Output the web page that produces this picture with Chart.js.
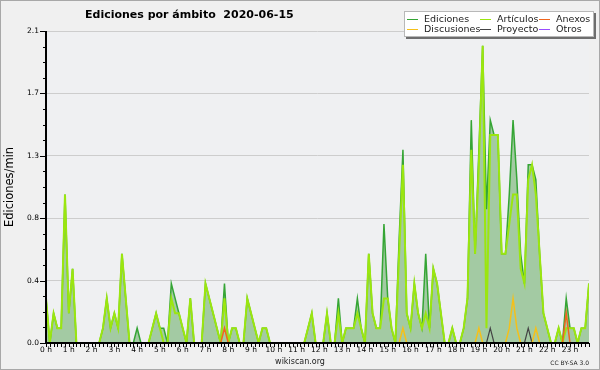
<!DOCTYPE html>
<html>
<head>
<meta charset="utf-8">
<script src="https://cdn.jsdelivr.net/npm/chart.js@4.4.1/dist/chart.umd.min.js"></script>
<style>
html,body{margin:0;padding:0;background:#f0f0f0;}
#wrap{width:598px;height:368px;border:1px solid #a8a8a8;}
canvas{display:block;}
</style>
</head>
<body>
<div id="wrap"><canvas id="c" width="598" height="368"></canvas></div>
<script>
// 10-minute bins, edits per minute
const hourLabels = ['0 h','1 h','2 h','3 h','4 h','5 h','6 h','7 h','8 h','9 h','10 h','11 h',
  '12 h','13 h','14 h','15 h','16 h','17 h','18 h','19 h','20 h','21 h','22 h','23 h'];
const yTicks = [0, 0.42, 0.84, 1.26, 1.68, 2.1];

const ediciones = [
  0.3,0,0.2,0.1,0.1,1.0,0.2,0.5,0,0,0,0,
  0,0,0,0.1,0.3,0.1,0.2,0.1,0.6,0.3,0,0,
  0.1,0,0,0,0.1,0.2,0.1,0.1,0,0.4,0.3,0.2,
  0.1,0,0.3,0,0,0,0.4,0.3,0.2,0.1,0,0.4,
  0,0.1,0.1,0,0,0.3,0.2,0.1,0,0.1,0.1,0,
  0,0,0,0,0,0,0,0,0,0.1,0.2,0,
  0,0,0.2,0,0,0.3,0,0.1,0.1,0.1,0.3,0.1,
  0,0.6,0.2,0.1,0.1,0.8,0.3,0.1,0,0.7,1.3,0.2,
  0.1,0.4,0.2,0.1,0.6,0.1,0.5,0.4,0.2,0,0,0.1,
  0,0,0.1,0.3,1.5,0.6,1.3,2.0,0.9,1.5,1.4,1.4,
  0.6,0.6,1.0,1.5,1.1,0.6,0.4,1.2,1.2,1.1,0.6,0.2,
  0.1,0,0,0.1,0,0.3,0.1,0.1,0,0.1,0.1,0.4
];
const articulos = [
  0.3,0,0.2,0.1,0.1,1.0,0.2,0.5,0,0,0,0,
  0,0,0,0.1,0.3,0.1,0.2,0.1,0.6,0.3,0,0,
  0,0,0,0,0.1,0.2,0.1,0,0,0.3,0.2,0.2,
  0.1,0,0.3,0,0,0,0.4,0.3,0.2,0.1,0,0.3,
  0,0.1,0.1,0,0,0.3,0.2,0.1,0,0.1,0.1,0,
  0,0,0,0,0,0,0,0,0,0.1,0.2,0,
  0,0,0.2,0,0,0.2,0,0.1,0.1,0.1,0.2,0.1,
  0,0.6,0.2,0.1,0.1,0.3,0.3,0.1,0,0.6,1.2,0.2,
  0.1,0.4,0.2,0.1,0.2,0.1,0.5,0.4,0.2,0,0,0.1,
  0,0,0.1,0.3,1.3,0.6,1.2,2.0,0.1,1.4,1.4,1.4,
  0.6,0.6,0.8,1.0,1.0,0.5,0.4,1.1,1.2,1.0,0.6,0.2,
  0.1,0,0,0.1,0,0.1,0.1,0.1,0,0.1,0.1,0.4
];
const anexos = [
  0,0,0,0,0,0,0,0,0,0,0,0,
  0,0,0,0,0,0,0,0,0,0,0,0,
  0,0,0,0,0,0,0,0,0,0,0,0,
  0,0,0,0,0,0,0,0,0,0,0,0.1,
  0,0,0,0,0,0,0,0,0,0,0,0,
  0,0,0,0,0,0,0,0,0,0,0,0,
  0,0,0,0,0,0,0,0,0,0,0,0,
  0,0,0,0,0,0,0,0,0,0,0,0,
  0,0,0,0,0,0,0,0,0,0,0,0,
  0,0,0,0,0,0,0,0,0,0,0,0,
  0,0,0,0,0,0,0,0,0,0,0,0,
  0,0,0,0,0,0.2,0,0,0,0,0,0
];
const discusiones = [
  0,0,0,0,0,0,0,0,0,0,0,0,
  0,0,0,0,0,0,0,0,0,0,0,0,
  0,0,0,0,0,0,0,0,0,0,0,0,
  0,0,0,0,0,0,0,0,0,0,0,0,
  0,0,0,0,0,0,0,0,0,0,0,0,
  0,0,0,0,0,0,0,0,0,0,0,0,
  0,0,0,0,0,0,0,0,0,0,0,0,
  0,0,0,0,0,0,0,0,0,0,0.1,0,
  0,0,0,0,0,0,0,0,0,0,0,0,
  0,0,0,0,0,0,0.1,0,0,0,0,0,
  0,0,0.1,0.3,0.1,0,0,0,0,0.1,0,0,
  0,0,0,0,0,0,0,0,0,0,0,0
];
const proyecto = [
  0,0,0,0,0,0,0,0,0,0,0,0,
  0,0,0,0,0,0,0,0,0,0,0,0,
  0,0,0,0,0,0,0,0,0,0,0,0,
  0,0,0,0,0,0,0,0,0,0,0,0,
  0,0,0,0,0,0,0,0,0,0,0,0,
  0,0,0,0,0,0,0,0,0,0,0,0,
  0,0,0,0,0,0,0,0,0,0,0,0,
  0,0,0,0,0,0,0,0,0,0,0,0,
  0,0,0,0,0,0,0,0,0,0,0,0,
  0,0,0,0,0,0,0,0,0,0.1,0,0,
  0,0,0,0,0,0,0,0.1,0,0,0,0,
  0,0,0,0,0,0,0,0,0,0,0,0
];
const otros = [
  0,0,0,0,0,0,0,0,0,0,0,0,
  0,0,0,0,0,0,0,0,0,0,0,0,
  0,0,0,0,0,0,0,0,0,0,0,0,
  0,0,0,0,0,0,0,0,0,0,0,0,
  0,0,0,0,0,0,0,0,0,0,0,0,
  0,0,0,0,0,0,0,0,0,0,0,0,
  0,0,0,0,0,0,0,0,0,0,0,0,
  0,0,0,0,0,0,0,0,0,0,0,0,
  0,0,0,0,0,0,0,0,0,0,0,0,
  0,0,0,0,0,0,0,0,0,0,0,0,
  0,0,0,0,0,0,0,0,0,0,0,0,
  0,0,0,0,0,0,0,0,0,0,0,0
];

const Y_MAX = 2.1;
const FONT = '"DejaVu Sans", sans-serif';
function pts(arr){return arr.map((v,i)=>({x:i/6, y:v}));}
function line(label, arr, color, width, order, extra){
  return Object.assign({label, data:pts(arr), borderColor:color, borderWidth:width,
    pointRadius:0, tension:0, fill:false, order}, extra||{});
}

const datasets = [
  line('Ediciones', ediciones, '#35a535', 1.5, 5, {fill:'origin', backgroundColor:'#a3caa3'}),
  line('Artículos', articulos, '#9be60f', 2, 4),
  line('Anexos', anexos, '#f0651e', 1.5, 1),
  line('Discusiones', discusiones, '#f5c01a', 1.5, 2),
  line('Proyecto', proyecto, '#444444', 1.2, 3),
  line('Otros', otros, '#9a4dff', 1.2, 0)
];

const bgPlugin = {
  id:'bg',
  beforeDraw(chart){
    const {ctx, chartArea:a} = chart;
    ctx.save();
    ctx.fillStyle = '#eff0f2';
    ctx.fillRect(a.left, a.top, a.right-a.left, a.bottom-a.top);
    ctx.restore();
  }
};

// axis lines and minor ticks, drawn over the zero lines
const axisPlugin = {
  id:'axes',
  afterDatasetsDraw(chart){
    const {ctx, chartArea:a, scales:{x, y}} = chart;
    ctx.save();
    ctx.strokeStyle = '#000';
    ctx.lineWidth = 1;
    for(let k=0;k<=20;k++){
      const py = Math.round(y.getPixelForValue(k*Y_MAX/20))+0.5;
      const len = k%4===0 ? 6 : 3;
      ctx.beginPath(); ctx.moveTo(a.left-len, py); ctx.lineTo(a.left, py); ctx.stroke();
    }
    for(let i=0;i<ediciones.length;i++){
      const px = Math.round(x.getPixelForValue(i/6))+0.5;
      ctx.beginPath(); ctx.moveTo(px, a.bottom); ctx.lineTo(px, a.bottom+4); ctx.stroke();
    }
    ctx.lineWidth = 2;
    ctx.beginPath();
    ctx.moveTo(a.left, a.top); ctx.lineTo(a.left, a.bottom); ctx.lineTo(a.right, a.bottom);
    ctx.stroke();
    ctx.restore();
  }
};

const textPlugin = {
  id:'texts',
  afterDraw(chart){
    const {ctx, chartArea:a} = chart;
    ctx.save();
    ctx.fillStyle = '#000';
    ctx.font = 'bold 11px '+FONT;
    ctx.textBaseline = 'alphabetic';
    ctx.textAlign = 'left';
    ctx.fillText('Ediciones por ámbito  2020-06-15', 84, 17);

    ctx.save();
    ctx.translate(9, (a.top+a.bottom)/2);
    ctx.rotate(-Math.PI/2);
    ctx.textAlign = 'center';
    ctx.textBaseline = 'middle';
    ctx.font = '11.5px '+FONT;
    ctx.fillText('Ediciones/min', 0, 0);
    ctx.restore();

    ctx.fillStyle = '#222';
    ctx.font = '8px '+FONT;
    ctx.textAlign = 'center';
    ctx.fillText('wikiscan.org', 299, 363);
    ctx.font = '6px '+FONT;
    ctx.textAlign = 'right';
    ctx.fillText('CC BY-SA 3.0', 588, 364);

    // legend
    ctx.fillStyle = '#6e6e6e';
    ctx.fillRect(405, 12, 190, 26);
    ctx.fillStyle = '#fff';
    ctx.fillRect(403, 10, 190, 26);
    ctx.strokeStyle = '#b8b8b8';
    ctx.lineWidth = 1;
    ctx.strokeRect(403.5, 10.5, 189, 25);
    const cols = [406, 479, 538];
    const rows = [18.5, 28.5];
    ctx.font = '9.5px '+FONT;
    ctx.textAlign = 'left';
    ctx.textBaseline = 'middle';
    chart.data.datasets.forEach((ds, i)=>{
      const cx = cols[i%3], cy = rows[Math.floor(i/3)];
      ctx.strokeStyle = ds.borderColor;
      ctx.beginPath(); ctx.moveTo(cx, cy); ctx.lineTo(cx+11, cy); ctx.stroke();
      ctx.fillStyle = '#222';
      ctx.fillText(ds.label, cx+17, cy+0.5);
    });
    ctx.restore();
  }
};

new Chart(document.getElementById('c').getContext('2d'), {
  type:'line',
  data:{datasets},
  options:{
    responsive:false,
    animation:false,
    layout:{padding:{left:0, right:10, top:30, bottom:0}},
    plugins:{legend:{display:false}, tooltip:{enabled:false}},
    scales:{
      x:{
        type:'linear', min:0, max:(ediciones.length-1)/6,
        afterBuildTicks:s=>{s.ticks = hourLabels.map((_,h)=>({value:h}));},
        afterFit:s=>{s.height = 26;},
        grid:{display:false, drawTicks:false},
        border:{display:false},
        ticks:{callback:v=>hourLabels[v], autoSkip:false, maxRotation:0,
          padding:3, color:'#000', font:{family:FONT, size:7.5}}
      },
      y:{
        min:0, max:Y_MAX,
        afterBuildTicks:s=>{s.ticks = yTicks.map(v=>({value:v}));},
        afterFit:s=>{s.width = 45;},
        grid:{color:'#cdcdcd', drawTicks:false},
        border:{display:false},
        ticks:{callback:v=>v.toFixed(1), padding:7, color:'#000', font:{family:FONT, size:7.5}}
      }
    }
  },
  plugins:[bgPlugin, axisPlugin, textPlugin]
});
</script>
</body>
</html>
